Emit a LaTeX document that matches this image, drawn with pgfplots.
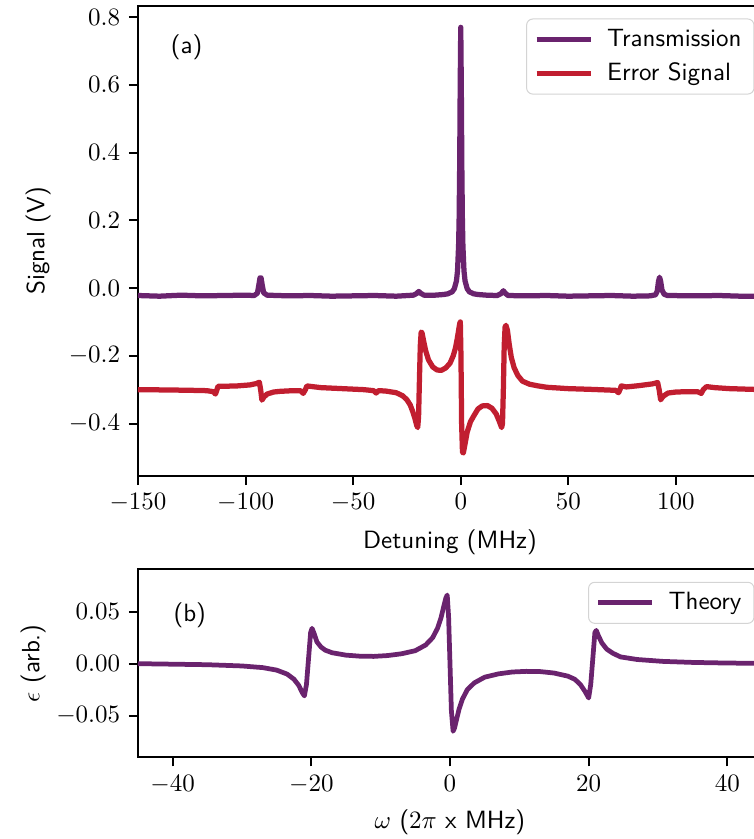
\documentclass[border=0pt]{standalone}
\usepackage{pgfplots}
\pgfplotsset{compat=1.18}
\definecolor{trans}{RGB}{106,35,110}
\definecolor{errsig}{RGB}{193,30,48}
\pgfplotsset{
  panel/.style={
    scale only axis, width=249.6pt,
    tick align=outside, major tick length=3.6pt,
    xtick pos=bottom, ytick pos=left,
    axis line style={line width=0.8pt},
    every tick/.style={black, line width=0.8pt},
    label style={font=\sffamily},
    scaled y ticks=false,
    legend cell align=left,
    legend style={font=\sffamily, draw=black!17, rounded corners=2.5pt,
      fill=white, fill opacity=0.8, text opacity=1,
      at={(1,1)}, anchor=north east, xshift=-3pt, yshift=-5pt,
      inner xsep=3pt, inner ysep=2pt, row sep=1pt,
      /tikz/every odd column/.append style={column sep=3.5pt}},
    legend image code/.code={\draw[#1] (0pt,0pt) -- (21.6pt,0pt);},
  },
  sig/.style={line width=2.1pt, line join=round},
}
\begin{document}
\begin{tikzpicture}
\useasboundingbox (-55.2pt,-145.2pt) rectangle (246.4pt,190.4pt);
% (a) measured spectra
\begin{axis}[panel, height=188pt,
  xmin=-150, xmax=140, ymin=-0.555, ymax=0.833,
  xtick={-150,-100,-50,0,50,100},
  ytick={-0.4,-0.2,0,0.2,0.4,0.6,0.8},
  yticklabel style={/pgf/number format/fixed, /pgf/number format/fixed zerofill, /pgf/number format/precision=1},
  xlabel={Detuning (MHz)}, ylabel={Signal (V)},
  xlabel style={at={(axis description cs:0.5,0)}, anchor=base, yshift=-28.8pt},
  ylabel style={at={(axis description cs:-0.160,0.5)}, anchor=center},
]
\addplot[sig, trans] coordinates {
  (-150,-0.022)(-140,-0.024)(-130,-0.021)(-120,-0.023)(-110,-0.022)(-100,-0.021)
  (-96,-0.022)(-94.5,-0.015)(-93.8,0.010)(-93.3,0.030)(-92.8,0.030)(-92.3,0.010)
  (-91.6,-0.014)(-90,-0.021)(-80,-0.023)(-70,-0.022)(-60,-0.024)(-50,-0.023)
  (-40,-0.022)(-30,-0.024)(-22,-0.021)(-20.5,-0.016)(-19.5,-0.010)(-18.5,-0.016)
  (-17,-0.021)(-12,-0.021)(-8,-0.019)(-6,-0.017)(-4,-0.011)(-3,-0.002)(-2,0.021)
  (-1.5,0.051)(-1,0.126)(-0.75,0.207)(-0.5,0.36)(-0.25,0.60)(0,0.77)(0.25,0.60)
  (0.5,0.36)(0.75,0.207)(1,0.126)(1.5,0.051)(2,0.021)(3,-0.002)(4,-0.011)
  (6,-0.017)(8,-0.019)(12,-0.021)(17,-0.022)(18.8,-0.016)(19.8,-0.008)(20.8,-0.016)
  (22,-0.022)(30,-0.023)(40,-0.022)(50,-0.024)(60,-0.023)(70,-0.022)(80,-0.024)
  (88,-0.023)(90.5,-0.020)(91.3,-0.010)(91.9,0.020)(92.4,0.032)(92.9,0.020)
  (93.5,-0.005)(94.5,-0.018)(96,-0.022)(110,-0.023)(120,-0.022)(130,-0.024)(141,-0.024)};
\addlegendentry{Transmission}
\addplot[sig, errsig] coordinates {
  (-150,-0.300)(-135,-0.301)(-125,-0.302)(-118,-0.303)(-115,-0.306)(-114,-0.313)
  (-113.3,-0.300)(-112.8,-0.290)(-110,-0.290)(-104,-0.289)(-98,-0.286)(-95,-0.282)
  (-93.6,-0.278)(-93.0,-0.300)(-92.4,-0.331)(-91.5,-0.322)(-90,-0.313)(-87,-0.307)
  (-84,-0.305)(-78,-0.303)(-74.5,-0.303)(-73.2,-0.311)(-72.2,-0.300)(-71.5,-0.289)
  (-69,-0.291)(-65,-0.294)(-55,-0.297)(-45,-0.300)(-40.5,-0.303)(-39.3,-0.310)
  (-38.3,-0.303)(-35,-0.304)(-30,-0.309)(-27,-0.318)(-25,-0.330)(-23.5,-0.345)
  (-22.3,-0.365)(-21.3,-0.385)(-20.5,-0.405)(-20.0,-0.412)(-19.6,-0.38)(-19.2,-0.27)
  (-18.8,-0.17)(-18.4,-0.13)(-18.0,-0.132)(-17.3,-0.155)(-16.3,-0.185)(-15,-0.212)
  (-13,-0.233)(-11,-0.242)(-9,-0.243)(-7,-0.236)(-5,-0.222)(-3.5,-0.20)(-2.5,-0.178)
  (-1.7,-0.152)(-1.0,-0.125)(-0.5,-0.105)(-0.2,-0.10)(0.1,-0.2)(0.4,-0.40)
  (0.8,-0.485)(1.2,-0.487)(2,-0.46)(3,-0.425)(4.5,-0.395)(6,-0.378)(8,-0.357)
  (10,-0.348)(12.4,-0.347)(14.5,-0.355)(16.5,-0.372)(18,-0.395)(19.0,-0.412)
  (19.4,-0.40)(19.8,-0.30)(20.2,-0.17)(20.6,-0.115)(21.0,-0.110)(21.7,-0.125)
  (22.5,-0.165)(23.5,-0.205)(24.8,-0.235)(26.5,-0.258)(28.7,-0.275)(32,-0.284)
  (36,-0.289)(40,-0.293)(50,-0.297)(60,-0.299)(72,-0.302)(73.3,-0.309)(74.0,-0.300)
  (74.6,-0.289)(77,-0.292)(83,-0.288)(89,-0.283)(91.5,-0.279)(92.2,-0.300)
  (92.9,-0.330)(94,-0.320)(96.3,-0.310)(100,-0.307)(105,-0.306)(110,-0.306)
  (111.8,-0.311)(112.7,-0.300)(114.2,-0.291)(118,-0.294)(125,-0.297)(135,-0.299)(141,-0.300)};
\addlegendentry{Error Signal}
\node[font=\sffamily] at (axis description cs:0.078,0.913) {(a)};
\end{axis}
% (b) theory
\begin{axis}[panel, height=75.2pt, at={(0,-37.3pt)}, anchor=north west,
  xmin=-45, xmax=45, ymin=-0.09, ymax=0.0908,
  xtick={-40,-20,0,20,40},
  ytick={-0.05,0,0.05},
  yticklabel style={/pgf/number format/fixed, /pgf/number format/fixed zerofill, /pgf/number format/precision=2},
  xlabel={$\omega$ ($2\pi$ x MHz)}, ylabel={$\epsilon$ (arb.)},
  xlabel style={at={(axis description cs:0.5,0)}, anchor=base, yshift=-28.3pt},
  ylabel style={at={(axis description cs:-0.168,0.5)}, anchor=center},
]
\addplot[sig, trans, line width=1.9pt] coordinates {
  (-45,0.0000)(-40,-0.0005)(-35,-0.0010)(-30,-0.0022)(-27,-0.0038)(-25,-0.0062)
  (-23.5,-0.0100)(-22.5,-0.0150)(-21.8,-0.0210)(-21.3,-0.0280)(-21.0,-0.0310)
  (-20.7,-0.0200)(-20.4,0.0050)(-20.1,0.0300)(-19.9,0.0340)(-19.6,0.0290)
  (-19.2,0.0210)(-18.6,0.0160)(-18,0.0130)(-17,0.0105)(-15,0.0082)(-13,0.0072)
  (-11,0.0070)(-9,0.0078)(-7,0.0095)(-5,0.0125)(-3.5,0.0180)(-2.5,0.0250)
  (-1.8,0.0340)(-1.3,0.0440)(-0.9,0.0550)(-0.6,0.0630)(-0.4,0.0660)(-0.2,0.0450)
  (0,0)(0.2,-0.0450)(0.45,-0.0650)(0.65,-0.0620)(0.9,-0.0550)(1.3,-0.0440)
  (1.8,-0.0340)(2.5,-0.0250)(3.5,-0.0185)(5,-0.0130)(7,-0.0098)(9,-0.0080)
  (11,-0.0074)(13,-0.0076)(15,-0.0090)(17,-0.0120)(18,-0.0150)(18.8,-0.0200)
  (19.5,-0.0270)(20.0,-0.0330)(20.3,-0.0200)(20.6,0.0050)(20.9,0.0300)(21.1,0.0320)
  (21.4,0.0270)(21.9,0.0200)(22.6,0.0140)(23.5,0.0100)(24.6,0.0065)(27,0.0040)
  (30.7,0.0022)(35,0.0012)(40,0.0006)(45,0.0003)};
\addlegendentry{Theory}
\node[font=\sffamily] at (axis description cs:0.083,0.757) {(b)};
\end{axis}
\end{tikzpicture}
\end{document}
